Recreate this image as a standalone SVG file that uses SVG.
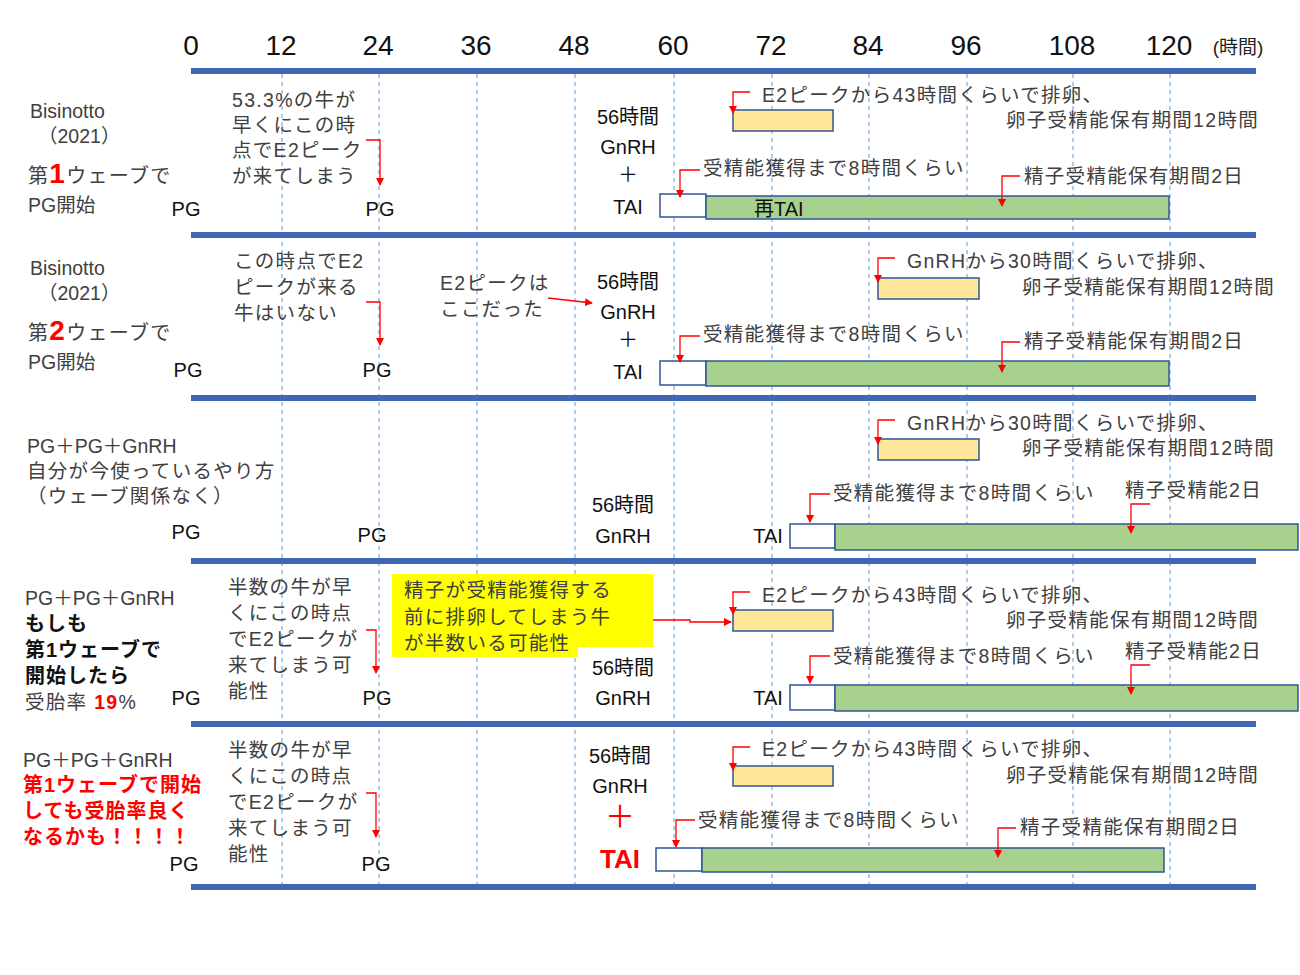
<svg xmlns="http://www.w3.org/2000/svg" width="1300" height="975" viewBox="0 0 1300 975">
<defs>
<marker id="ah" markerWidth="8" markerHeight="8" refX="7" refY="4" orient="auto" markerUnits="userSpaceOnUse" viewBox="0 0 8 8"><path d="M0,0 L8,4 L0,8 z" fill="#ff0000"/></marker>
<style>
text{font-family:"Liberation Sans","Noto Sans CJK JP",sans-serif;fill:#333}
.ax{font-size:28px;text-anchor:middle;fill:#111}
.t{font-size:19.5px;fill:#404040;letter-spacing:1.3px}
.k{font-size:20px;fill:#111}
.c{text-anchor:middle}
.e{text-anchor:end}
.bar{fill:#3f67b5}
.grid{stroke:#5b9bd5;stroke-width:1;stroke-dasharray:4 4}
.y{fill:#ffe699;stroke:#2f5597;stroke-width:1.5}
.w{fill:#fff;stroke:#2f5597;stroke-width:1.5}
.g{fill:#a9d18e;stroke:#2f5597;stroke-width:1.5}
.a{fill:none;stroke:#ff0000;stroke-width:1.3;marker-end:url(#ah)}
.red{fill:#ff0000;font-weight:bold}
.b{font-weight:bold;fill:#111}
</style>
</defs>
<rect width="1300" height="975" fill="#fff"/>
<g id="grid">
<line class="grid" x1="282" y1="74" x2="282" y2="887"/>
<line class="grid" x1="379" y1="74" x2="379" y2="887"/>
<line class="grid" x1="477" y1="74" x2="477" y2="887"/>
<line class="grid" x1="575" y1="74" x2="575" y2="887"/>
<line class="grid" x1="674" y1="74" x2="674" y2="887"/>
<line class="grid" x1="772" y1="74" x2="772" y2="887"/>
<line class="grid" x1="869" y1="74" x2="869" y2="887"/>
<line class="grid" x1="967" y1="74" x2="967" y2="887"/>
<line class="grid" x1="1073" y1="74" x2="1073" y2="887"/>
<line class="grid" x1="1170" y1="74" x2="1170" y2="887"/>
</g>
<g id="axis">
<text class="ax" x="191" y="55">0</text><text class="ax" x="281" y="55">12</text><text class="ax" x="378" y="55">24</text><text class="ax" x="476" y="55">36</text><text class="ax" x="574" y="55">48</text><text class="ax" x="673" y="55">60</text><text class="ax" x="771" y="55">72</text><text class="ax" x="868" y="55">84</text><text class="ax" x="966" y="55">96</text><text class="ax" x="1072" y="55">108</text><text class="ax" x="1169" y="55">120</text>
<text x="1238" y="54" style="font-size:19px;text-anchor:middle;fill:#222">(時間)</text>
<rect class="bar" x="191" y="68" width="1065" height="6"/>
<rect class="bar" x="191" y="232" width="1065" height="6"/>
<rect class="bar" x="191" y="395" width="1065" height="6"/>
<rect class="bar" x="191" y="558" width="1065" height="6"/>
<rect class="bar" x="191" y="721" width="1065" height="6"/>
<rect class="bar" x="191" y="884" width="1065" height="6"/>
</g>
<g id="row1">
<text class="t" x="30" y="118" style="letter-spacing:0">Bisinotto</text><text class="t" x="38" y="143" style="letter-spacing:0">（2021）</text>
<text class="t" x="28" y="183" style="font-size:20px">第<tspan class="red" style="font-size:28px">1</tspan>ウェーブで</text>
<text class="t" x="28" y="212" style="letter-spacing:0">PG開始</text>
<text class="k c" x="186" y="216">PG</text><text class="k c" x="380" y="216">PG</text>
<text class="t" x="232" y="107">53.3%の牛が</text><text class="t" x="232" y="132">早くにこの時</text><text class="t" x="232" y="157">点でE2ピーク</text><text class="t" x="232" y="183">が来てしまう</text>
<text class="k c" x="628" y="124">56時間</text><text class="k c" x="628" y="154">GnRH</text><text class="k c" x="628" y="182">＋</text><text class="k c" x="628" y="214">TAI</text>
<rect class="y" x="733" y="110" width="100" height="21"/>
<text class="t" x="762" y="102">E2ピークから43時間くらいで排卵、</text><text class="t e" x="1259" y="127">卵子受精能保有期間12時間</text>
<rect class="w" x="660" y="194" width="46" height="23"/><rect class="g" x="706" y="196" width="463" height="23"/>
<text class="k" x="754" y="216">再TAI</text>
<text class="t" x="703" y="175">受精能獲得まで8時間くらい</text><text class="t" x="1024" y="183">精子受精能保有期間2日</text>
</g>
<g id="row2">
<text class="t" x="30" y="275" style="letter-spacing:0">Bisinotto</text><text class="t" x="38" y="300" style="letter-spacing:0">（2021）</text>
<text class="t" x="28" y="340" style="font-size:20px">第<tspan class="red" style="font-size:28px">2</tspan>ウェーブで</text>
<text class="t" x="28" y="369" style="letter-spacing:0">PG開始</text>
<text class="k c" x="188" y="377">PG</text><text class="k c" x="377" y="377">PG</text>
<text class="t" x="234" y="268">この時点でE2</text><text class="t" x="234" y="294">ピークが来る</text><text class="t" x="234" y="320">牛はいない</text>
<text class="t" x="440" y="290">E2ピークは</text><text class="t" x="440" y="316">ここだった</text>
<text class="k c" x="628" y="289">56時間</text><text class="k c" x="628" y="319">GnRH</text><text class="k c" x="628" y="347">＋</text><text class="k c" x="628" y="379">TAI</text>
<rect class="y" x="878" y="278" width="101" height="21"/>
<text class="t" x="907" y="268">GnRHから30時間くらいで排卵、</text><text class="t e" x="1275" y="294">卵子受精能保有期間12時間</text>
<rect class="w" x="660" y="361" width="46" height="24"/><rect class="g" x="706" y="361" width="463" height="25"/>
<text class="t" x="703" y="341">受精能獲得まで8時間くらい</text><text class="t" x="1024" y="348">精子受精能保有期間2日</text>
</g>
<g id="row3">
<text class="t" x="27" y="453" style="letter-spacing:0">PG＋PG＋GnRH</text><text class="t" x="27" y="478">自分が今使っているやり方</text><text class="t" x="27" y="503">（ウェーブ関係なく）</text>
<text class="k c" x="186" y="539">PG</text><text class="k c" x="372" y="542">PG</text>
<text class="k c" x="623" y="512">56時間</text><text class="k c" x="623" y="543">GnRH</text>
<rect class="y" x="878" y="439" width="101" height="21"/>
<text class="t" x="907" y="430">GnRHから30時間くらいで排卵、</text><text class="t e" x="1275" y="455">卵子受精能保有期間12時間</text>
<text class="k c" x="768" y="543">TAI</text>
<rect class="w" x="790" y="524" width="45" height="24"/><rect class="g" x="835" y="524" width="463" height="26"/>
<text class="t" x="833" y="500">受精能獲得まで8時間くらい</text><text class="t" x="1125" y="497">精子受精能2日</text>
</g>
<g id="row4">
<text class="t" x="25" y="605" style="letter-spacing:0">PG＋PG＋GnRH</text>
<text class="b" x="25" y="631" style="font-size:20px;letter-spacing:1px">もしも</text><text class="b" x="25" y="657" style="font-size:20px;letter-spacing:1px">第1ウェーブで</text><text class="b" x="25" y="683" style="font-size:20px;letter-spacing:1px">開始したら</text>
<text class="t" x="25" y="709">受胎率 <tspan class="red">19</tspan>%</text>
<text class="k c" x="186" y="705">PG</text><text class="k c" x="377" y="705">PG</text>
<text class="t" x="228" y="594">半数の牛が早</text><text class="t" x="228" y="620">くにこの時点</text><text class="t" x="228" y="646">でE2ピークが</text><text class="t" x="228" y="672">来てしまう可</text><text class="t" x="228" y="698">能性</text>
<path d="M392,574 H653 V647 H578 V657 H392 Z" fill="#ffff00"/>
<text class="t" x="404" y="597">精子が受精能獲得する</text><text class="t" x="404" y="624">前に排卵してしまう牛</text><text class="t" x="404" y="650">が半数いる可能性</text>
<rect class="y" x="733" y="610" width="100" height="21"/>
<text class="t" x="762" y="602">E2ピークから43時間くらいで排卵、</text><text class="t e" x="1259" y="627">卵子受精能保有期間12時間</text>
<text class="k c" x="623" y="675">56時間</text><text class="k c" x="623" y="705">GnRH</text>
<text class="k c" x="768" y="705">TAI</text>
<rect class="w" x="790" y="685" width="45" height="25"/><rect class="g" x="835" y="685" width="463" height="26"/>
<text class="t" x="833" y="663">受精能獲得まで8時間くらい</text><text class="t" x="1125" y="658">精子受精能2日</text>
</g>
<g id="row5">
<text class="t" x="23" y="767" style="letter-spacing:0">PG＋PG＋GnRH</text>
<text class="red" x="23" y="792" style="font-size:20px;letter-spacing:1px">第1ウェーブで開始</text><text class="red" x="23" y="818" style="font-size:20px;letter-spacing:1px">しても受胎率良く</text><text class="red" x="23" y="844" style="font-size:20px;letter-spacing:1px">なるかも！！！！</text>
<text class="k c" x="184" y="871">PG</text><text class="k c" x="376" y="871">PG</text>
<text class="t" x="228" y="757">半数の牛が早</text><text class="t" x="228" y="783">くにこの時点</text><text class="t" x="228" y="809">でE2ピークが</text><text class="t" x="228" y="835">来てしまう可</text><text class="t" x="228" y="861">能性</text>
<text class="k c" x="620" y="763">56時間</text><text class="k c" x="620" y="793">GnRH</text>
<text class="c red" x="620" y="827" style="font-size:30px;font-weight:normal">＋</text><text class="c red" x="620" y="868" style="font-size:26px">TAI</text>
<rect class="y" x="733" y="766" width="100" height="20"/>
<text class="t" x="762" y="756">E2ピークから43時間くらいで排卵、</text><text class="t e" x="1259" y="782">卵子受精能保有期間12時間</text>
<rect class="w" x="656" y="848" width="46" height="23"/><rect class="g" x="702" y="848" width="462" height="24"/>
<text class="t" x="698" y="827">受精能獲得まで8時間くらい</text><text class="t" x="1020" y="834">精子受精能保有期間2日</text>
</g>
<g id="connectors">
<path class="a" d="M366,140 H380 V185"/>
<path class="a" d="M750,92 H733 V113"/>
<path class="a" d="M700,170 H680 V197"/>
<path class="a" d="M1020,176 H1002 V206"/>
<path class="a" d="M366,302 H380 V345"/>
<path class="a" d="M548,298 L592,303"/>
<path class="a" d="M895,258 H878 V282"/>
<path class="a" d="M700,336 H680 V362"/>
<path class="a" d="M1020,342 H1002 V372"/>
<path class="a" d="M895,420 H878 V444"/>
<path class="a" d="M830,494 H810 V522"/>
<path class="a" d="M1150,504 H1131 V533"/>
<path class="a" d="M366,630 H376 V673"/>
<path class="a" d="M653,620 H690 V622 H731"/>
<path class="a" d="M750,592 H733 V614"/>
<path class="a" d="M830,656 H810 V683"/>
<path class="a" d="M1150,665 H1131 V694"/>
<path class="a" d="M366,793 H376 V837"/>
<path class="a" d="M750,747 H733 V770"/>
<path class="a" d="M695,820 H676 V847"/>
<path class="a" d="M1016,828 H998 V857"/>
</g>
</svg>
